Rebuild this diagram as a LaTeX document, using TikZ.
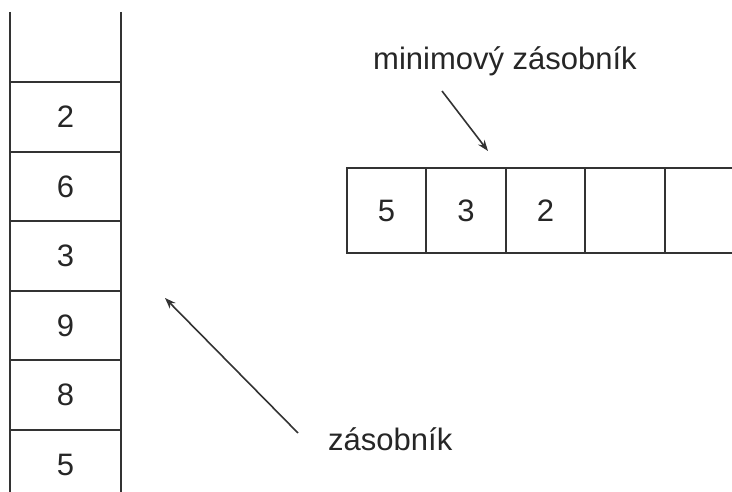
\documentclass[tikz,border=0pt]{standalone}
\usepackage{fontspec}
\setmainfont{Liberation Sans}
\usetikzlibrary{arrows.meta}
\tikzset{
  ln/.style={line width=1.6pt, draw=black!80},
  scell/.style={ln, draw, rectangle, minimum width=111pt, minimum height=69.5pt, inner sep=0pt, font=\fontsize{31}{31}\selectfont, text=black!85},
  mcell/.style={ln, draw, rectangle, minimum width=79.5pt, minimum height=85pt, inner sep=0pt, font=\fontsize{31}{31}\selectfont, text=black!85},
  lbl/.style={inner sep=0pt, font=\fontsize{31}{31}\selectfont, text=black!85},
  arr/.style={ln, -{Stealth[length=11pt, width=8pt]}}
}
\begin{document}
\begin{tikzpicture}[x=1pt, y=-1pt]
\useasboundingbox (0,0) rectangle (732,492);
\clip (0,0) rectangle (732,492);
% stack
\coordinate (lt) at (10,12);
\coordinate (lb) at (10,492);
\coordinate (rt) at (121,12);
\coordinate (rb) at (121,492);
\draw[ln] (lt) -- (lb);
\draw[ln] (rt) -- (rb);
\node[scell] (s1) at (65.5,117) {2};
\node[scell] (s2) at (65.5,186.5) {6};
\node[scell] (s3) at (65.5,256) {3};
\node[scell] (s4) at (65.5,325.5) {9};
\node[scell] (s5) at (65.5,395) {8};
\node[scell] (s6) at (65.5,464.5) {5};
% min stack
\node[mcell] (m1) at (386.5,210.5) {5};
\node[mcell] (m2) at (466,210.5) {3};
\node[mcell] (m3) at (545.5,210.5) {2};
\node[mcell] (m4) at (625,210.5) {};
\node[mcell] (m5) at (704.5,210.5) {};
% labels
\node[lbl, anchor=west] (tmin) at (373,61) {minimový zásobník};
\node[lbl, anchor=west] (tz) at (328,439) {zásobník};
\coordinate (a1s) at (442,91);
\coordinate (a1e) at (488,151);
\coordinate (a2s) at (298,433);
\coordinate (a2e) at (165,298);
\draw[arr] (a1s) -- (a1e);
\draw[arr] (a2s) -- (a2e);
\end{tikzpicture}
\end{document}
